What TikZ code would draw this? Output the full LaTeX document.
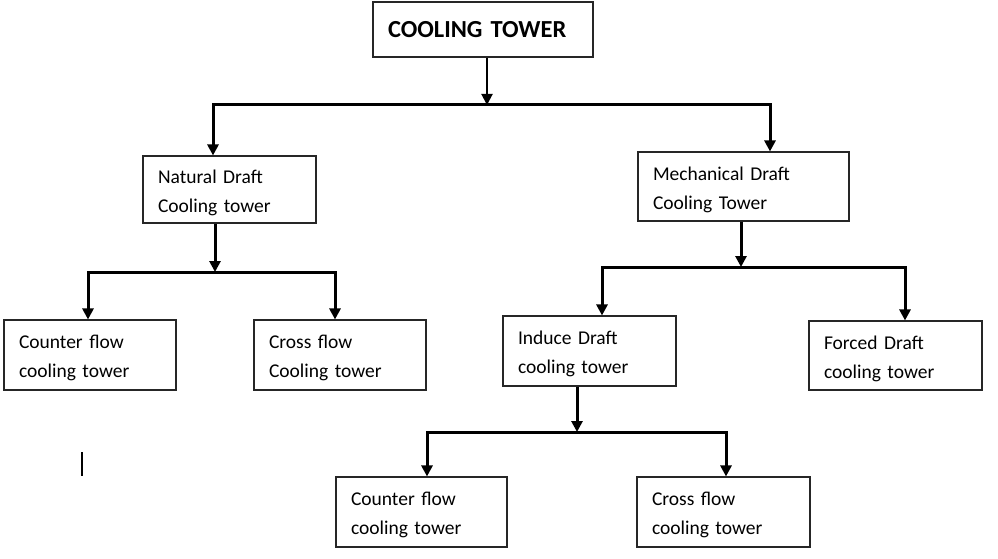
\documentclass[tikz,border=0pt]{standalone}
\usepackage{fontspec}
\setmainfont{Carlito}
\usetikzlibrary{arrows.meta}
\begin{document}
\begin{tikzpicture}[x=1pt,y=-1pt,
  box/.style={draw=black!85, line width=1.1pt, inner xsep=15pt, inner ysep=0pt,
    align=left, font=\fontsize{19.5}{29}\selectfont},
  tip/.style={-{Triangle[width=11pt,length=11pt]}},
  bar/.style={line width=3pt, line join=miter,
    {Triangle[width=11pt,length=11pt]}-{Triangle[width=11pt,length=11pt]}},
  stem/.style={line width=3pt, tip},
  thinstem/.style={line width=2pt, tip}]
\useasboundingbox (0,0) rectangle (998,559);
\fill[white] (0,0) rectangle (998,559);

% boxes
\node[box, font=\bfseries\fontsize{24.5}{28}\selectfont, text width=190pt, minimum height=55pt] (ct) at (483,29.5) {COOLING TOWER};
\node[box, text width=143pt, minimum height=67pt] (nd) at (229.5,189.5) {\strut Natural Draft\\Cooling tower};
\node[box, text width=181pt, minimum height=69pt] (md) at (743.5,186.5) {\strut Mechanical Draft\\Cooling Tower};
\node[box, text width=142pt, minimum height=70pt] (cf1) at (90,355) {\strut Counter flow\\cooling tower};
\node[box, text width=142pt, minimum height=70pt] (xf1) at (340,355) {\strut Cross flow\\Cooling tower};
\node[box, text width=143pt, minimum height=70pt] (id) at (589.5,351) {\strut Induce Draft\\cooling tower};
\node[box, text width=143pt, minimum height=69pt] (fd) at (895.5,355.5) {\strut Forced Draft\\cooling tower};
\node[box, text width=141pt, minimum height=70pt] (cf2) at (421.5,512) {\strut Counter flow\\cooling tower};
\node[box, text width=143pt, minimum height=70pt] (xf2) at (723.5,512) {\strut Cross flow\\cooling tower};

% junctions
\coordinate (j0) at (487,105); \coordinate (l0) at (213,105); \coordinate (r0) at (770,105);
\coordinate (j1) at (215,272); \coordinate (l1) at (88,272);  \coordinate (r1) at (335,272);
\coordinate (j2) at (741,267); \coordinate (l2) at (602,267); \coordinate (r2) at (905,267);
\coordinate (j3) at (577,432); \coordinate (l3) at (427,432); \coordinate (r3) at (726,432);

% connectors
\draw[thinstem] (ct.south -| j0) -- (j0);
\draw[bar] (nd.north -| l0) -- (l0) -- (r0) -- (r0 |- md.north);

\draw[stem] (nd.south -| j1) -- (j1);
\draw[bar] (cf1.north -| l1) -- (l1) -- (r1) -- (r1 |- xf1.north);

\draw[stem] (md.south -| j2) -- (j2);
\draw[bar] (id.north -| l2) -- (l2) -- (r2) -- (r2 |- fd.north);

\draw[stem] (id.south -| j3) -- (j3);
\draw[bar] (cf2.north -| l3) -- (l3) -- (r3) -- (r3 |- xf2.north);

% stray mark
\coordinate (s1) at (82,452); \coordinate (s2) at (82,476);
\draw[line width=2pt] (s1) -- (s2);
\end{tikzpicture}
\end{document}
